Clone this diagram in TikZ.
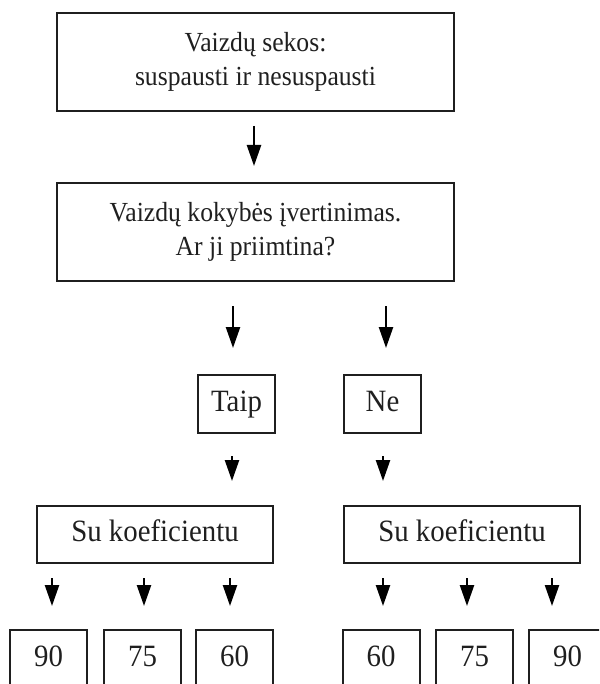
\documentclass[tikz,border=0pt]{standalone}
\usepackage{fontspec}
\setmainfont[FakeStretch=0.93]{Liberation Serif}
\usetikzlibrary{arrows.meta}
\tikzset{
  box/.style={draw=black!88, line width=2pt, rectangle, inner sep=0pt, text=black!88, align=center},
  bigtext/.style={font=\fontsize{27.6pt}{34pt}\selectfont},
  smalltext/.style={font=\fontsize{31pt}{34pt}\selectfont, text height=21.5pt, text depth=7.5pt},
  arr/.style={line width=2.4pt, draw=black, -{Triangle[length=21pt,width=14pt]}},
  numbox/.style={box, font=\fontsize{31pt}{34pt}\selectfont, anchor=north, minimum width=77pt, text height=36pt, text depth=44pt},
}
\begin{document}
\begin{tikzpicture}[x=1pt,y=-1pt]
\useasboundingbox (0,0) rectangle (599,684);
\clip (0,0) rectangle (599,684);
\node[box, bigtext, minimum width=397pt, minimum height=98pt] (top) at (255.5,62) {Vaizdų sekos:\\suspausti ir nesuspausti};
\node[box, bigtext, minimum width=397pt, minimum height=98pt] (q) at (255.5,232) {Vaizdų kokybės įvertinimas.\\Ar ji priimtina?};
\node[box, smalltext, minimum width=77pt, minimum height=58pt] (taip) at (236.5,404) {Taip};
\node[box, smalltext, minimum width=77pt, minimum height=58pt] (ne) at (382.5,404) {Ne};
\node[box, smalltext, minimum width=236pt, minimum height=57pt] (suL) at (155,534.5) {Su koeficientu};
\node[box, smalltext, minimum width=236pt, minimum height=57pt] (suR) at (462,534.5) {Su koeficientu};
\node[numbox] (l90) at (48.5,629) {90};
\node[numbox] (l75) at (142.5,629) {75};
\node[numbox] (l60) at (234.5,629) {60};
\node[numbox] (r60) at (381,629) {60};
\node[numbox] (r75) at (474.5,629) {75};
\node[numbox] (r90) at (567.5,629) {90};

\draw[arr] ([xshift=-1.5pt,yshift=-14pt]top.south) -- ([xshift=-1.5pt,yshift=16pt]q.north);
\draw[arr] ([xshift=-3.5pt,yshift=-24pt]taip.north |- q.south) -- ([xshift=-3.5pt,yshift=26pt]taip.north);
\draw[arr] ([xshift=3.5pt,yshift=-24pt]ne.north |- q.south) -- ([xshift=3.5pt,yshift=26pt]ne.north);
\draw[arr] ([xshift=-4.5pt,yshift=-22pt]taip.south) -- ([xshift=-4.5pt,yshift=24pt]taip.south |- suL.north);
\draw[arr] ([xshift=0.5pt,yshift=-22pt]ne.south) -- ([xshift=0.5pt,yshift=24pt]ne.south |- suR.north);
\draw[arr] ([xshift=3.5pt,yshift=-14pt]l90.north |- suL.south) -- ([xshift=3.5pt,yshift=23pt]l90.north);
\draw[arr] ([xshift=1.5pt,yshift=-14pt]l75.north |- suL.south) -- ([xshift=1.5pt,yshift=23pt]l75.north);
\draw[arr] ([xshift=-4.5pt,yshift=-14pt]l60.north |- suL.south) -- ([xshift=-4.5pt,yshift=23pt]l60.north);
\draw[arr] ([xshift=2pt,yshift=-14pt]r60.north |- suR.south) -- ([xshift=2pt,yshift=23pt]r60.north);
\draw[arr] ([xshift=-7.5pt,yshift=-14pt]r75.north |- suR.south) -- ([xshift=-7.5pt,yshift=23pt]r75.north);
\draw[arr] ([xshift=-15.5pt,yshift=-14pt]r90.north |- suR.south) -- ([xshift=-15.5pt,yshift=23pt]r90.north);
\end{tikzpicture}
\end{document}
